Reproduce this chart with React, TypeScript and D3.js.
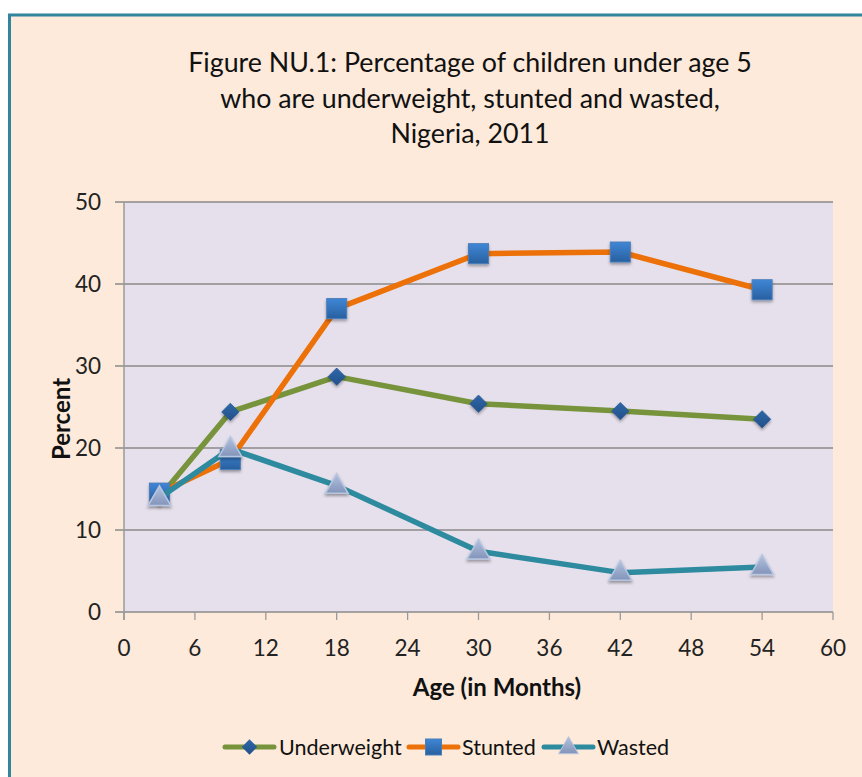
import React from "react";
import * as d3 from "d3";

const ages = [3, 9, 18, 30, 42, 54];
const underweight = [14.0, 24.4, 28.7, 25.4, 24.5, 23.5];
const stunted = [14.5, 18.6, 37.0, 43.7, 43.9, 39.3];
const wasted = [13.9, 19.9, 15.4, 7.4, 4.8, 5.5];
const xTicks = [0, 6, 12, 18, 24, 30, 36, 42, 48, 54, 60];
const yTicks = [0, 10, 20, 30, 40, 50];
const titleLines = [
  "Figure NU.1: Percentage of children under age 5",
  "who are underweight, stunted and wasted,",
  "Nigeria, 2011",
];
const seriesNames = ["Underweight", "Stunted", "Wasted"];

const W = 862;
const H = 777;
const FONT = "Lato, 'Open Sans', sans-serif";

export default function App() {
  const x = d3.scaleLinear().domain([0, 60]).range([124, 833]);
  const y = d3.scaleLinear().domain([0, 50]).range([612, 202]);

  const series = [
    { name: seriesNames[0], values: underweight, color: "#77933C", marker: "diamond" },
    { name: seriesNames[1], values: stunted, color: "#EC7108", marker: "square" },
    { name: seriesNames[2], values: wasted, color: "#2E8A9E", marker: "triangle" },
  ];

  const line = d3
    .line<number>()
    .x((_, i) => x(ages[i]))
    .y((d) => y(d));

  const diamond = d3.symbol().type(d3.symbolDiamond2).size(190);
  const triangle = d3.symbol().type(d3.symbolTriangle).size(225);

  const marker = (kind: string, cx: number, cy: number, key: string | number) => {
    if (kind === "square") {
      return (
        <g key={key} filter="url(#shadow)">
          <rect x={cx - 10} y={cy - 10} width={20} height={20} fill="url(#gSquare)" stroke="#4a7ebb" strokeWidth={1} />
        </g>
      );
    }
    if (kind === "diamond") {
      return (
        <g key={key} filter="url(#shadow)">
          <path d={diamond() as string} transform={`translate(${cx},${cy})`} fill="url(#gDiamond)" stroke="#2a5a94" strokeWidth={0.8} />
        </g>
      );
    }
    return (
      <g key={key} filter="url(#shadow)">
        <path d={triangle() as string} transform={`translate(${cx},${cy + 1})`} fill="url(#gTri)" stroke="#b8c6e0" strokeWidth={1.5} />
      </g>
    );
  };

  const legendItems = [
    { x0: 225, x1: 274, tx: 279 },
    { x0: 409, x1: 458, tx: 462 },
    { x0: 544, x1: 593, tx: 597 },
  ];
  const legendY = 747;

  return (
    <svg width={W} height={H} style={{ position: "absolute", left: 0, top: 0 }}>
      <defs>
        <linearGradient id="gSquare" x1="0" y1="0" x2="0" y2="1">
          <stop offset="0" stopColor="#3f86d6" />
          <stop offset="1" stopColor="#28609f" />
        </linearGradient>
        <linearGradient id="gDiamond" x1="0" y1="0" x2="0" y2="1">
          <stop offset="0" stopColor="#2f67a8" />
          <stop offset="1" stopColor="#22508a" />
        </linearGradient>
        <linearGradient id="gTri" x1="0" y1="0" x2="0" y2="1">
          <stop offset="0" stopColor="#b3c2de" />
          <stop offset="1" stopColor="#8394ba" />
        </linearGradient>
        <filter id="shadow" x="-50%" y="-50%" width="200%" height="200%">
          <feDropShadow dx="0" dy="2" stdDeviation="1.5" floodColor="#000" floodOpacity="0.35" />
        </filter>
      </defs>
      <rect x={0} y={0} width={W} height={H} fill="#ffffff" />
      <rect x={9.5} y={15} width={W + 20} height={H + 20} fill="#FDEADA" stroke="#31859C" strokeWidth={3} />

      {titleLines.map((t, i) => (
        <text key={i} x={470} y={72 + i * 35.5} textAnchor="middle" fontFamily={FONT} fontSize={26.8} fill="#111">
          {t}
        </text>
      ))}

      <rect x={x(0)} y={y(50)} width={x(60) - x(0)} height={y(0) - y(50)} fill="#E6E0EC" />
      {yTicks.map((t) => (
        <g key={t}>
          <line x1={x(0) - 9} x2={x(60)} y1={y(t)} y2={y(t)} stroke="#8a8a8a" strokeWidth={1.3} />
          <text x={101} y={y(t)} dy="0.35em" textAnchor="end" fontFamily={FONT} fontSize={22.5} fill="#222">
            {t}
          </text>
        </g>
      ))}
      <line x1={x(0)} x2={x(0)} y1={y(50)} y2={y(0) + 8} stroke="#9a9a9a" strokeWidth={1.5} />
      {xTicks.map((t) => (
        <g key={t}>
          <line x1={x(t)} x2={x(t)} y1={y(0)} y2={y(0) + 8} stroke="#9a9a9a" strokeWidth={1.3} />
          <text x={x(t)} y={648} dy="0.35em" textAnchor="middle" fontFamily={FONT} fontSize={22.5} fill="#222">
            {t}
          </text>
        </g>
      ))}

      <text x={497} y={688} dy="0.35em" textAnchor="middle" fontFamily={FONT} fontSize={24} fontWeight="bold" fill="#111">
        Age (in Months)
      </text>
      <text transform="translate(62,419) rotate(-90)" dy="0.35em" textAnchor="middle" fontFamily={FONT} fontSize={24} fontWeight="bold" fill="#111">
        Percent
      </text>

      {series.map((s) => (
        <g key={s.name}>
          <path d={line(s.values) as string} fill="none" stroke={s.color} strokeWidth={5.5} strokeLinejoin="round" strokeLinecap="round" />
          {s.values.map((v, i) => marker(s.marker, x(ages[i]), y(v), i))}
        </g>
      ))}

      {series.map((s, i) => {
        const it = legendItems[i];
        return (
          <g key={s.name}>
            <line x1={it.x0} x2={it.x1} y1={legendY} y2={legendY} stroke={s.color} strokeWidth={5} strokeLinecap="round" />
            {s.marker === "square" ? (
              <rect x={(it.x0 + it.x1) / 2 - 8} y={legendY - 8} width={16} height={16} fill="url(#gSquare)" stroke="#4a7ebb" strokeWidth={1} />
            ) : s.marker === "diamond" ? (
              <path d={d3.symbol().type(d3.symbolDiamond2).size(150)() as string} transform={`translate(${(it.x0 + it.x1) / 2},${legendY})`} fill="url(#gDiamond)" />
            ) : (
              <path d={d3.symbol().type(d3.symbolTriangle).size(170)() as string} transform={`translate(${(it.x0 + it.x1) / 2},${legendY + 1})`} fill="url(#gTri)" stroke="#b8c6e0" strokeWidth={1} />
            )}
            <text x={it.tx} y={legendY} dy="0.35em" fontFamily={FONT} fontSize={21.5} fill="#111">
              {s.name}
            </text>
          </g>
        );
      })}
    </svg>
  );
}
